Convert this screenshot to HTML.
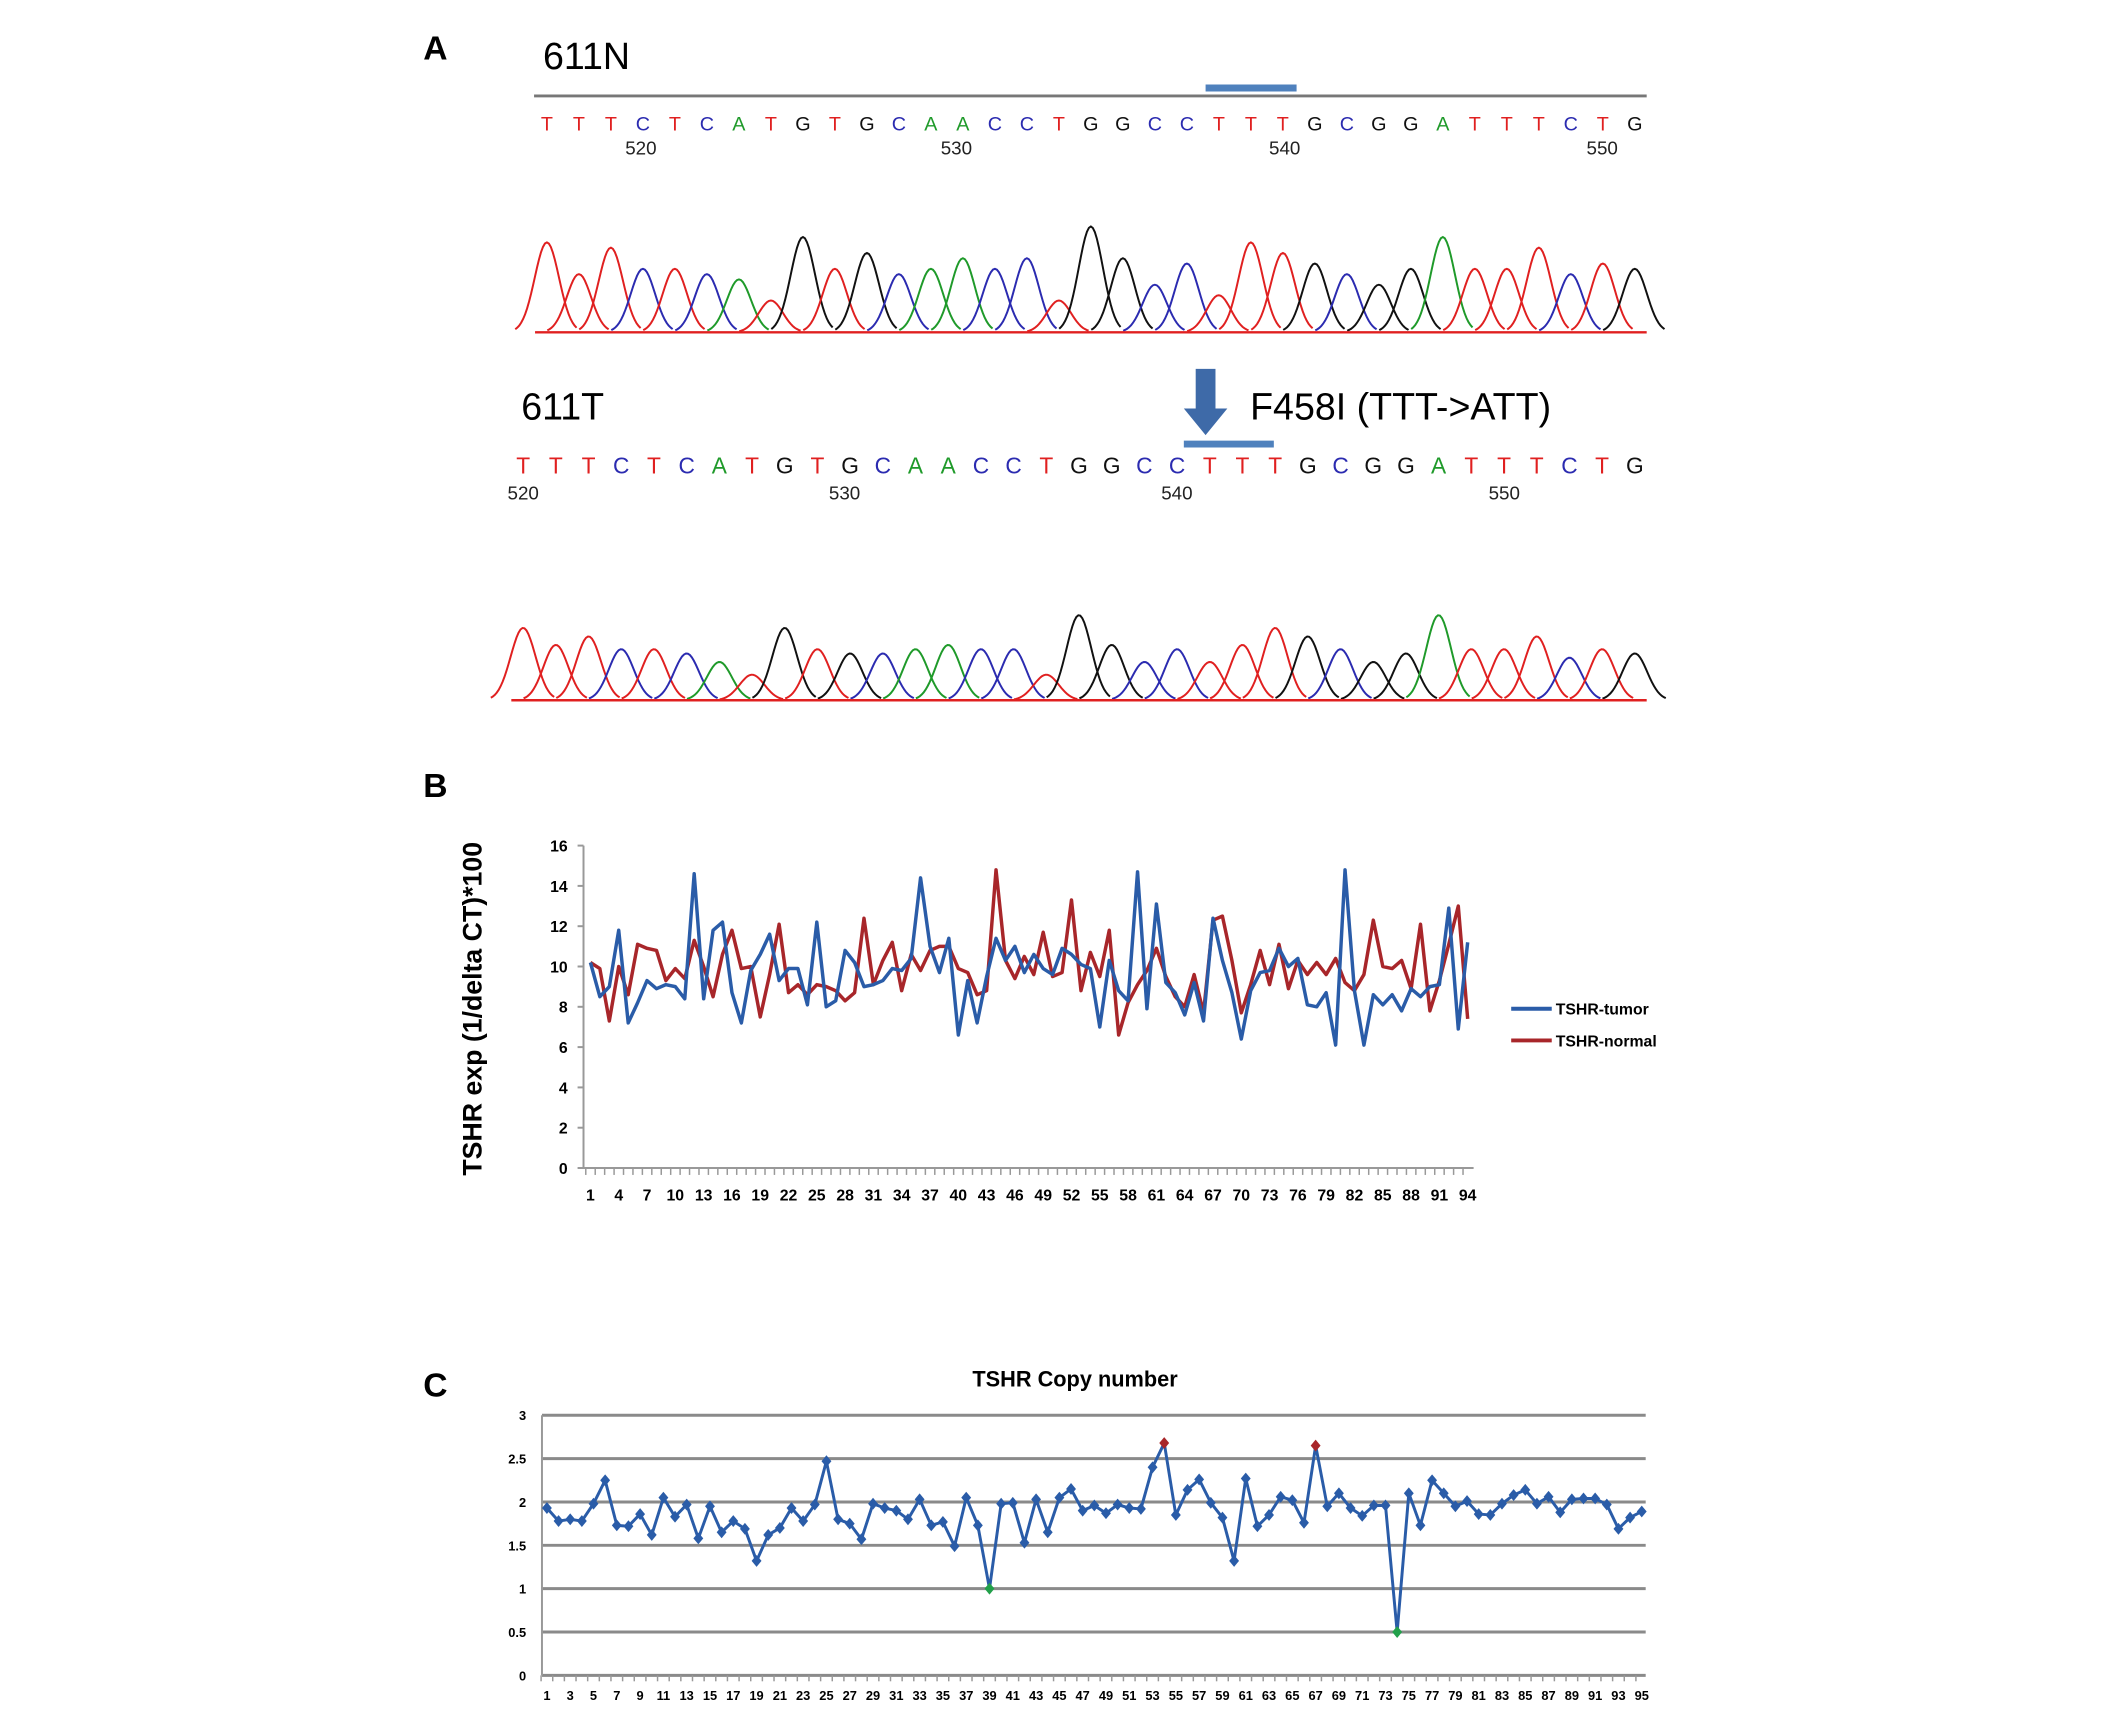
<!DOCTYPE html>
<html><head><meta charset="utf-8"><style>
html,body{margin:0;padding:0;background:#fff;}
svg{display:block;}
text{font-family:"Liberation Sans",sans-serif;}
</style></head><body>
<svg id="fig" width="2128" height="1723" viewBox="0 0 2128 1723" xmlns="http://www.w3.org/2000/svg">
<g transform="scale(0.989)">
<g>
<text x="428" y="60" font-family="Liberation Serif" font-weight="bold" font-size="34">A</text>
<text x="549" y="70" font-size="38">611N</text>
<line x1="540" y1="97" x2="1665" y2="97" stroke="#777" stroke-width="3"/>
<line x1="1219" y1="89" x2="1311" y2="89" stroke="#4f81bd" stroke-width="7"/>
<text x="527" y="424" font-size="38">611T</text>
<path d="M1209 373 h20 v40 h12 l-22 27 l-22 -27 h12 z" fill="#3e6aa8"/>
<text x="1264" y="424" font-size="38">F458I (TTT-&gt;ATT)</text>
<line x1="1197" y1="449" x2="1288" y2="449" stroke="#4f81bd" stroke-width="7"/>
<g id="seqA"></g>
</g>
<g>
<text x="428" y="806" font-family="Liberation Serif" font-weight="bold" font-size="34">B</text>
<text transform="translate(487,1020) rotate(-90)" text-anchor="middle" font-size="27" font-weight="bold">TSHR exp (1/delta CT)*100</text>
<g id="chartB"></g>
<line x1="1528" y1="1020" x2="1569" y2="1020" stroke="#2a5ca8" stroke-width="4"/>
<text x="1573" y="1026" font-size="16" font-weight="bold">TSHR-tumor</text>
<line x1="1528" y1="1052" x2="1569" y2="1052" stroke="#a8262a" stroke-width="4"/>
<text x="1573" y="1058" font-size="16" font-weight="bold">TSHR-normal</text>
</g>
<g>
<text x="428" y="1412" font-family="Liberation Serif" font-weight="bold" font-size="34">C</text>
<text x="1087" y="1402" text-anchor="middle" font-size="22" font-weight="bold">TSHR Copy number</text>
<g id="chartC"></g>
</g>
</g>
</svg>
<script>
// ---- Panel A data ----
const seqN = "TTTCTCATGTGCAACCTGGCCTTTGCGGATTTCTG";
const seqT = "TTTCTCATGTGCAACCTGGCCTTTGCGGATTTCTG";
const peaksN = [0.85,0.55,0.8,0.6,0.6,0.55,0.5,0.3,0.9,0.6,0.75,0.55,0.6,0.7,0.6,0.7,0.3,1.0,0.7,0.45,0.65,0.35,0.85,0.75,0.65,0.55,0.45,0.6,0.9,0.6,0.6,0.8,0.55,0.65,0.6];
const peaksT = [0.85,0.65,0.75,0.6,0.6,0.55,0.45,0.3,0.85,0.6,0.55,0.55,0.6,0.65,0.6,0.6,0.3,1.0,0.65,0.45,0.6,0.45,0.65,0.85,0.75,0.6,0.45,0.55,1.0,0.6,0.6,0.75,0.5,0.6,0.55];
const numsN = ["520","530","540","550"];
const numsT = ["520","530","540","550"];
// ---- Panel B data ----
const catsB = Array.from({length:94},(_,i)=>i+1);
const tumor = [10.2,8.5,9,11.8,7.2,8.2,9.3,8.9,9.1,9.0,8.4,14.6,8.4,11.8,12.2,8.7,7.2,9.8,10.6,11.6,9.3,9.9,9.9,8.1,12.2,8.0,8.3,10.8,10.2,9.0,9.1,9.3,9.9,9.8,10.4,14.4,11.0,9.7,11.4,6.6,9.3,7.2,9.5,11.4,10.3,11.0,9.7,10.6,9.9,9.6,10.9,10.6,10.1,9.9,7.0,10.3,8.8,8.3,14.7,7.9,13.1,9.2,8.7,7.6,9.2,7.3,12.4,10.3,8.7,6.4,8.8,9.7,9.8,10.9,10.0,10.4,8.1,8.0,8.7,6.1,14.8,8.8,6.1,8.6,8.1,8.6,7.8,8.9,8.5,9.0,9.1,12.9,6.9,11.2];
const normal = [10.2,9.9,7.3,10.0,8.6,11.1,10.9,10.8,9.3,9.9,9.4,11.3,10.0,8.5,10.6,11.8,9.9,10.0,7.5,9.6,12.1,8.7,9.1,8.6,9.1,9.0,8.8,8.3,8.7,12.4,9.1,10.3,11.2,8.8,10.6,9.8,10.8,11.0,11.0,9.9,9.7,8.6,8.8,14.8,10.3,9.4,10.5,9.6,11.7,9.5,9.7,13.3,8.8,10.7,9.5,11.8,6.6,8.2,9.1,9.8,10.9,9.5,8.5,8.0,9.6,7.7,12.3,12.5,10.3,7.7,9.1,10.8,9.1,11.1,8.9,10.3,9.6,10.2,9.6,10.4,9.2,8.8,9.6,12.3,10.0,9.9,10.3,8.9,12.1,7.8,9.3,11.1,13.0,7.4];
const ticksB = [0,2,4,6,8,10,12,14,16];
// ---- Panel C data ----
const catsC = Array.from({length:95},(_,i)=>i+1);
const copyNum = [1.93,1.78,1.8,1.78,1.98,2.25,1.73,1.72,1.86,1.62,2.05,1.83,1.97,1.58,1.95,1.65,1.78,1.69,1.32,1.62,1.7,1.93,1.78,1.97,2.47,1.8,1.75,1.57,1.98,1.93,1.9,1.8,2.03,1.73,1.77,1.49,2.05,1.73,1.0,1.98,1.99,1.53,2.03,1.65,2.05,2.15,1.9,1.96,1.87,1.97,1.93,1.92,2.4,2.68,1.85,2.14,2.26,1.99,1.82,1.32,2.27,1.72,1.85,2.06,2.02,1.76,2.65,1.95,2.1,1.93,1.84,1.96,1.96,0.5,2.1,1.73,2.25,2.1,1.95,2.01,1.86,1.85,1.98,2.08,2.14,1.98,2.06,1.88,2.03,2.04,2.04,1.97,1.69,1.82,1.89];
const lossIdx = [39,74];
const gainIdx = [54,67];
const ticksC = [0,0.5,1,1.5,2,2.5,3];

const NS="http://www.w3.org/2000/svg";
function mk(tag,attrs,parent){const e=document.createElementNS(NS,tag);for(const k in attrs)e.setAttribute(k,attrs[k]);parent.appendChild(e);return e;}
const colMap={T:"#e02020",C:"#2b2bb0",A:"#1f9a2a",G:"#111"};

// ---- Panel A drawing ----
const gA=document.getElementById('seqA');
function drawSeq(seq,x0,x1,y,fs,name){
  const sp=(x1-x0)/(seq.length-1);
  for(let i=0;i<seq.length;i++){
    const t=mk('text',{x:x0+i*sp,y:y,'text-anchor':'middle','font-size':fs,fill:colMap[seq[i]]},gA);
    
    
    t.textContent=seq[i];
  }
}
function drawNums(nums,xs,y,name){
  nums.forEach((n,i)=>{
    const t=mk('text',{x:xs[i],y:y,'text-anchor':'middle','font-size':19,fill:'#222'},gA);
    
    
    t.textContent=n;
  });
}
function drawTrace(seq,hs,x0,x1,base,top,name){
  const sp=(x1-x0)/(seq.length-1);
  const H=base-top, sig=sp*0.38;
  for(let i=0;i<seq.length;i++){
    const cx=x0+i*sp; let d="";
    for(let dx=-2.6*sig;dx<=2.6*sig;dx+=2){
      const yy=base-H*hs[i]*Math.exp(-dx*dx/(2*sig*sig));
      d+=(d?"L":"M")+(cx+dx).toFixed(1)+" "+yy.toFixed(1);
    }
    const p=mk('path',{d:d,fill:'none',stroke:colMap[seq[i]],'stroke-width':2},gA);
    
    
  }
  const b=mk('line',{x1:x0-12,y1:base,x2:x1+12,y2:base,stroke:'#e02020','stroke-width':2.5},gA);
  
  
}
drawSeq(seqN,553,1653,132,20,'seq-611n');
drawNums(numsN,[648,967,1299,1620],156,'seq-611n');
drawTrace(seqN,peaksN,553,1653,336,229,'trace-611n');
drawSeq(seqT,529,1653,479,23,'seq-611t');
drawNums(numsT,[529,854,1190,1521],505,'seq-611t');
drawTrace(seqT,peaksT,529,1653,708,622,'trace-611t');

// ---- Panel B drawing ----
const gB=document.getElementById('chartB');
const bx0=597,bx1=1484,by0=1181,by1=855;
const xB=i=>bx0+(i)*(bx1-bx0)/(catsB.length-1);
const yB=v=>by0-(v/16)*(by0-by1);
let ax=mk('line',{x1:590,y1:by1,x2:590,y2:by0,stroke:'#999','stroke-width':2},gB);

ax=mk('line',{x1:590,y1:by0,x2:1490,y2:by0,stroke:'#999','stroke-width':2},gB);

ticksB.forEach(v=>{
  const l=mk('line',{x1:584,y1:yB(v),x2:590,y2:yB(v),stroke:'#999','stroke-width':2},gB);
  
  const t=mk('text',{x:574,y:yB(v)+6,'text-anchor':'end','font-size':16,'font-weight':'bold'},gB);
  
  t.textContent=v;
});
catsB.forEach((c,i)=>{
  const l=mk('line',{x1:xB(i)-4.7,y1:by0,x2:xB(i)-4.7,y2:by0+7,stroke:'#999','stroke-width':1.5},gB);
  
  if(i%3===0){
    const t=mk('text',{x:xB(i),y:1214,'text-anchor':'middle','font-size':16,'font-weight':'bold'},gB);
    
    t.textContent=c;
  }
});
function linePath(arr,xf,yf){return arr.map((v,i)=>(i?"L":"M")+xf(i).toFixed(1)+" "+yf(v).toFixed(1)).join("");}
let pl=mk('path',{d:linePath(normal,xB,yB),fill:'none',stroke:'#a8262a','stroke-width':3.5,'stroke-linejoin':'round'},gB);

pl=mk('path',{d:linePath(tumor,xB,yB),fill:'none',stroke:'#2a5ca8','stroke-width':3.5,'stroke-linejoin':'round'},gB);


// ---- Panel C drawing ----
const gC=document.getElementById('chartC');
const cx0=553,cx1=1660,cy0=1694,cy1=1431;
const xC=i=>cx0+i*(cx1-cx0)/(catsC.length-1);
const yC=v=>cy0-(v/3)*(cy0-cy1);
ticksC.forEach(v=>{
  const l=mk('line',{x1:548,y1:yC(v),x2:1664,y2:yC(v),stroke:'#8a8a8a','stroke-width':3},gC);
  
  const t=mk('text',{x:532,y:yC(v)+5,'text-anchor':'end','font-size':13,'font-weight':'bold'},gC);
  
  t.textContent=v;
});
ax=mk('line',{x1:548,y1:cy1,x2:548,y2:cy0,stroke:'#999','stroke-width':2},gC);

catsC.forEach((c,i)=>{
  const l=mk('line',{x1:xC(i)-5.9,y1:cy0,x2:xC(i)-5.9,y2:cy0+6,stroke:'#999','stroke-width':1.5},gC);
  
  if(i%2===0){
    const t=mk('text',{x:xC(i),y:1719,'text-anchor':'middle','font-size':13,'font-weight':'bold'},gC);
    
    t.textContent=c;
  }
});
pl=mk('path',{d:linePath(copyNum,xC,yC),fill:'none',stroke:'#2a5ca8','stroke-width':3,'stroke-linejoin':'round'},gC);

copyNum.forEach((v,i)=>{
  let f='#2a5ca8';
  if(lossIdx.includes(i+1))f='#22a04a';
  if(gainIdx.includes(i+1))f='#a8262a';
  const x=xC(i),y=yC(v);
  const m=mk('path',{d:`M${x} ${y-6}L${x+5} ${y}L${x} ${y+6}L${x-5} ${y}Z`,fill:f},gC);
  
});
</script>
</body></html>
